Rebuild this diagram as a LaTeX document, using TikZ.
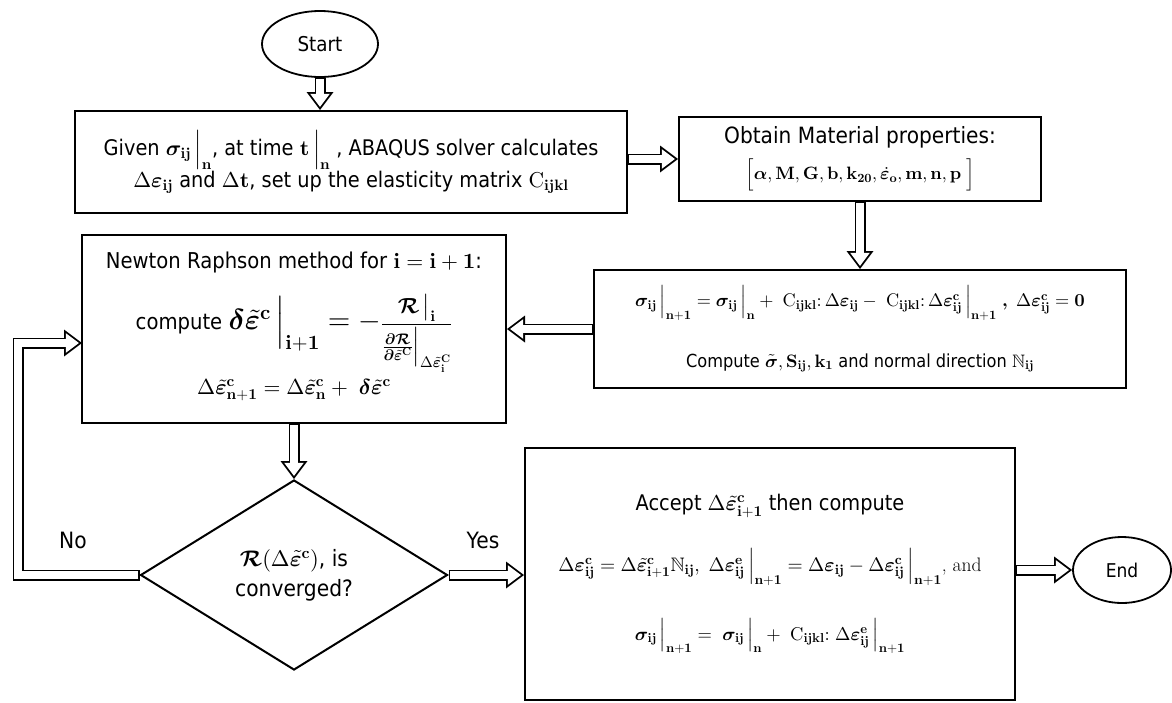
\documentclass[tikz,border=0pt]{standalone}
\usepackage{amsmath}
\usepackage{amssymb}
\usepackage{bm}
\usepackage[no-math]{fontspec}
\setsansfont{DejaVu Sans}[FakeStretch=0.9]
\usetikzlibrary{shapes.geometric,arrows.meta}

% scalable math fonts at any size
\DeclareFontShape{OT1}{cmr}{m}{n}{<->cmr10}{}
\DeclareFontShape{OT1}{cmr}{bx}{n}{<->cmbx10}{}
\DeclareFontShape{OML}{cmm}{m}{it}{<->cmmi10}{}
\DeclareFontShape{OML}{cmm}{b}{it}{<->cmmib10}{}
\DeclareFontShape{OMS}{cmsy}{m}{n}{<->cmsy10}{}
\DeclareFontShape{OMS}{cmsy}{b}{n}{<->cmbsy10}{}
\DeclareFontShape{OMX}{cmex}{m}{n}{<->cmex10}{}
\DeclareFontFamily{U}{msb}{}
\DeclareFontShape{U}{msb}{m}{n}{<->msbm10}{}

\newcommand{\bsig}{\bm{\sigma}}
\newcommand{\beps}{\bm{\varepsilon}}
\newcommand{\teps}{\tilde{\bm{\varepsilon}}}
\newcommand{\bR}{\bm{\mathcal{R}}}
\newcommand{\fs}[1]{\fontsize{#1}{1.2\dimexpr#1pt\relax}\selectfont}

\begin{document}
\begin{tikzpicture}[x=1pt,y=1pt,yscale=-1,
    box/.style={draw, line width=2pt, rectangle, align=center, inner sep=2pt},
    term/.style={draw, line width=1.8pt, ellipse, inner sep=0pt},
    decide/.style={draw, line width=2pt, diamond, align=center, inner sep=0pt},
    hollow/.style={line width=11pt, -{Triangle[length=18pt,width=27pt,line width=0pt]},
      postaction={draw=white, line width=7.4pt, shorten <=1.2pt, shorten >=3.1pt,
        -{Triangle[length=13.1pt,width=19.6pt,line width=0pt]}}},
    lbl/.style={font=\sffamily\fs{22.5}}
  ]
  \useasboundingbox (0,0) rectangle (1172,702);

  % terminals
  \node[term, minimum width=116pt, minimum height=66pt, font=\sffamily\fs{20.4}] (start) at (320,44) {Start};
  \node[term, minimum width=98pt, minimum height=66pt, font=\sffamily\fs{19}] (end) at (1122,570) {End};

  % process boxes
  \node[box, minimum width=552pt, minimum height=102pt, font=\sffamily\fontsize{21.5}{28}\selectfont] (given) at (351,162)
    {Given $\bsig_{\mathbf{ij}}\,\Big|_{\mathbf n}$, at time $\mathbf t\,\Big|_{\mathbf n}$ , ABAQUS solver calculates\\
     $\Delta\beps_{\mathbf{ij}}$ and $\Delta\mathbf t$, set up the elasticity matrix $\mathrm C_{\mathbf{ijkl}}$};
  \node[box, minimum width=362pt, minimum height=84pt, font=\sffamily\fontsize{22.4}{26}\selectfont] (mat) at (860,159)
    {Obtain Material properties:\\[10pt]
     {\fs{17.9}$\Big[\bm\alpha, \mathbf M, \mathbf G, \mathbf b, \mathbf k_{\mathbf{20}}, \dot{\beps}_{\mathbf o}, \mathbf m, \mathbf n, \mathbf p\;\Big]$}};
  \node[box, minimum width=532pt, minimum height=118pt, font=\sffamily\fontsize{18.2}{22}\selectfont] (sig) at (860,329)
    {$\bsig_{\mathbf{ij}}\,\Big|_{\mathbf{n+1}} = \bsig_{\mathbf{ij}}\,\Big|_{\mathbf n} +\ \mathrm C_{\mathbf{ijkl}}{:}\,\Delta\beps_{\mathbf{ij}} -\ \mathrm C_{\mathbf{ijkl}}{:}\,\Delta\beps^{\mathbf c}_{\mathbf{ij}}\,\Big|_{\mathbf{n+1}}\ \bm{,}\ \Delta\beps^{\mathbf c}_{\mathbf{ij}} = \mathbf 0$\\[32pt]
     {\fs{18}Compute $\tilde{\bsig}, \mathbf S_{\mathbf{ij}}, \mathbf k_{\mathbf 1}$ and normal direction $\mathbb N_{\mathbf{ij}}$}};
  \node[box, minimum width=424pt, minimum height=188pt, font=\sffamily\fontsize{21.8}{26}\selectfont] (nr) at (294,329)
    {\mbox{}\\[-14pt]
     Newton Raphson method for $\mathbf i = \mathbf i + \mathbf 1$:\\[20pt]
     compute {\fs{29}$\bm\delta\teps^{\mathbf c}\,\Big|_{\mathbf{i+1}} = -$}$\dfrac{\bR\,\big|_{\mathbf i}}{\frac{\bm\partial\bR}{\bm\partial\teps^{\mathbf C}}\Big|_{\Delta\teps^{\mathbf C}_{\mathbf i}}}$\\[6pt]
     {\fs{21.7}$\Delta\teps^{\mathbf c}_{\mathbf{n+1}} = \Delta\teps^{\mathbf c}_{\mathbf n} +\ \bm\delta\teps^{\mathbf c}$}};
  \node[decide, minimum width=307pt, minimum height=190pt, font=\sffamily\fontsize{22.5}{30}\selectfont] (conv) at (294,575)
    {$\bR(\Delta\teps^{\mathbf c})$, is\\converged?};
  \node[box, minimum width=490pt, minimum height=252pt, font=\sffamily\fontsize{18.5}{22}\selectfont] (acc) at (770,574)
    {{\fs{21.5}Accept $\Delta\teps^{\mathbf c}_{\mathbf{i+1}}$ then compute}\\[30pt]
     {\fs{19.5}$\Delta\beps^{\mathbf c}_{\mathbf{ij}} = \Delta\teps^{\mathbf c}_{\mathbf{i+1}}\mathbb N_{\mathbf{ij}},\ \Delta\beps^{\mathbf e}_{\mathbf{ij}}\,\Big|_{\mathbf{n+1}} = \Delta\beps_{\mathbf{ij}} - \Delta\beps^{\mathbf c}_{\mathbf{ij}}\,\Big|_{\mathbf{n+1}}$\textrm{, and}}\\[32pt]
     $\bsig_{\mathbf{ij}}\,\Big|_{\mathbf{n+1}} = \ \bsig_{\mathbf{ij}}\,\Big|_{\mathbf n} +\ \mathrm C_{\mathbf{ijkl}}{:}\ \Delta\beps^{\mathbf e}_{\mathbf{ij}}\,\Big|_{\mathbf{n+1}}$};

  % branch labels
  \node[lbl] (nolbl) at (73,540) {No};
  \node[lbl] (yeslbl) at (483,540) {Yes};

  % loop back corners
  \coordinate (loopbot) at (18,575);
  \coordinate (looptop) at (18,343);
  \coordinate (nrin) at (82,343);

  % flow
  \draw[hollow] (start.south) -- (start.south |- given.north);
  \draw[hollow] (given.east |- mat.west) -- (mat.west);
  \draw[hollow] (mat.south) -- (sig.north);
  \draw[hollow] (sig.west) -- (nr.east);
  \draw[hollow] (nr.south) -- (conv.north);
  \draw[hollow] (conv.east) -- (conv.east -| acc.west);
  \draw[hollow] (acc.east |- end.west) -- (end.west);
  \draw[hollow] (conv.west) -- (loopbot) -- (looptop) -- (nrin);
\end{tikzpicture}
\end{document}
